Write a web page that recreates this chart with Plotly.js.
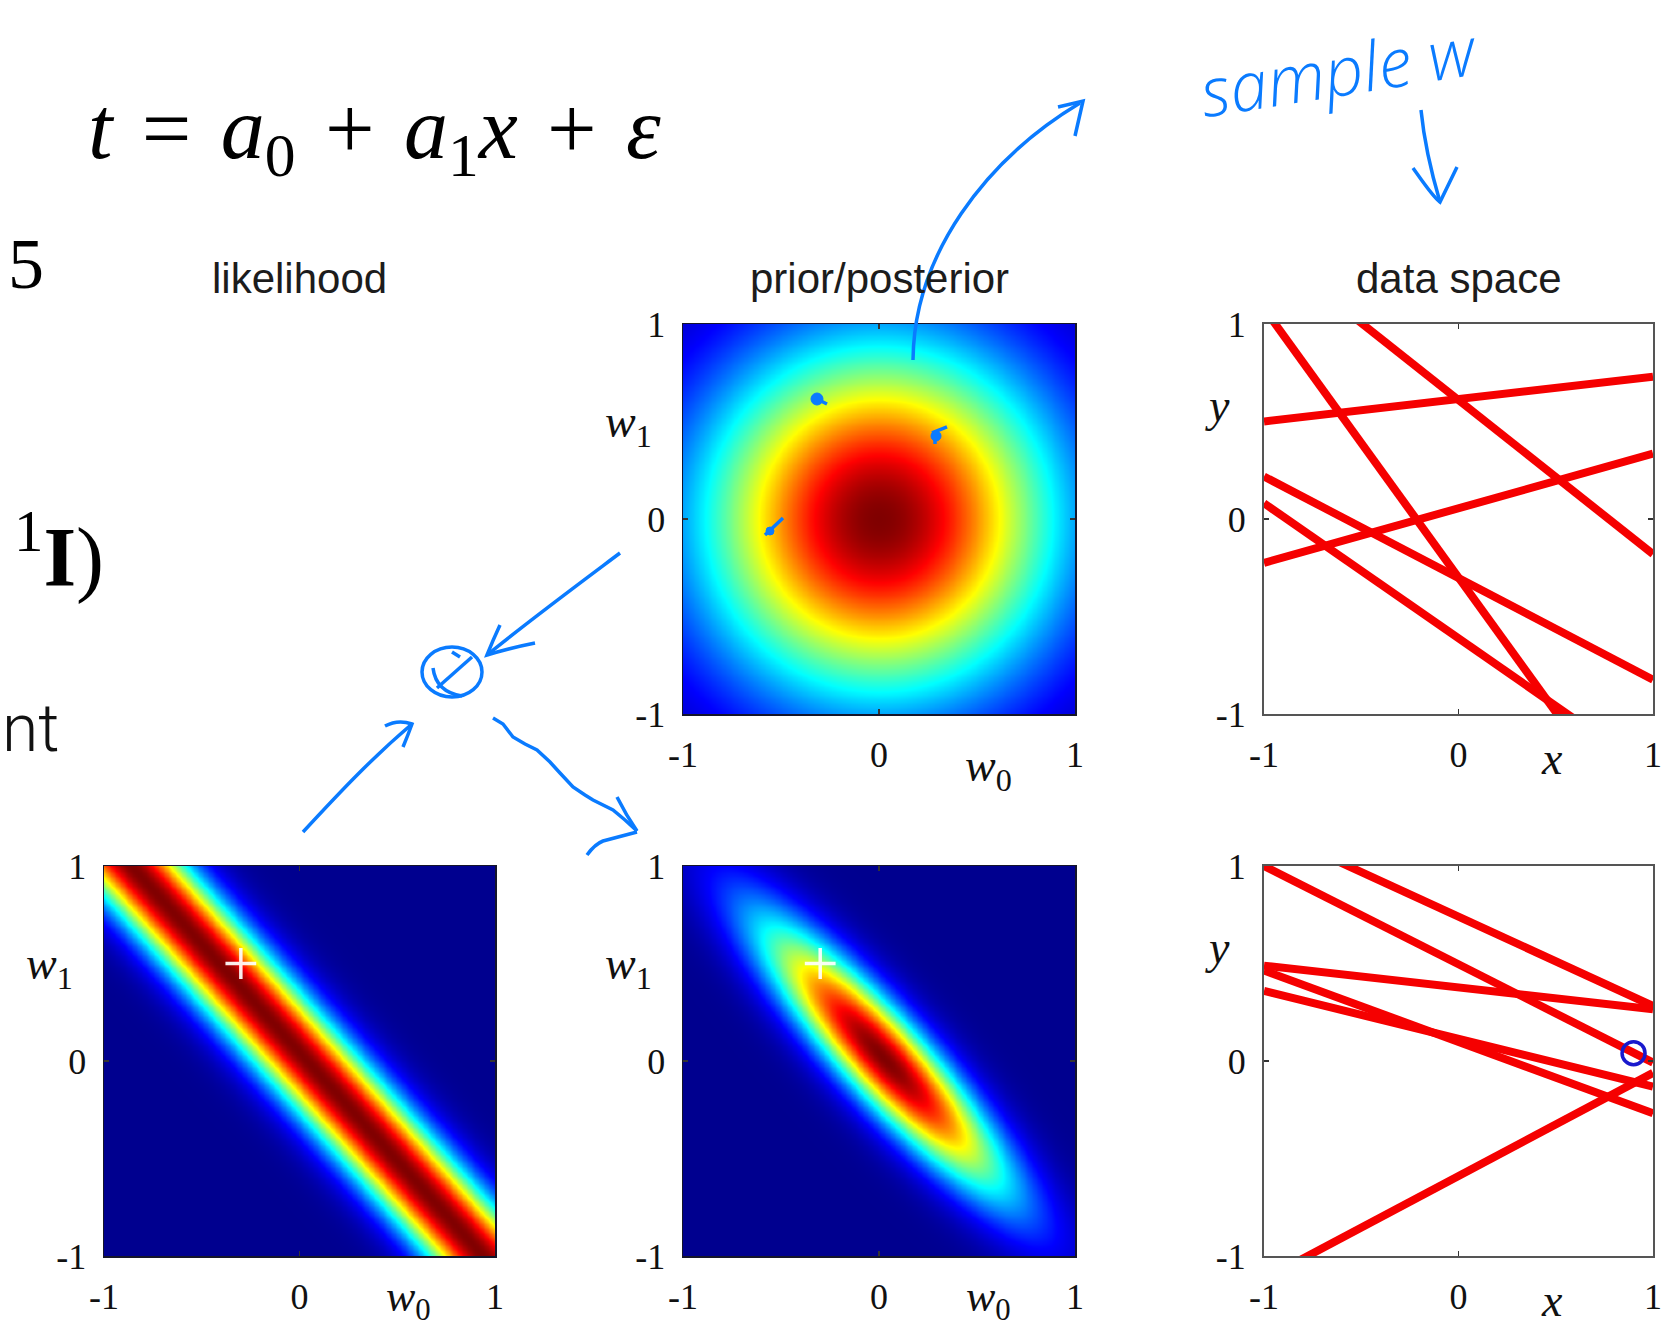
<!DOCTYPE html>
<html><head><meta charset="utf-8">
<script src="https://cdn.plot.ly/plotly-3.0.1.min.js"></script>
<style>html,body{margin:0;padding:0;background:#fff;overflow:hidden}#chart{width:1665px;height:1330px}</style>
</head><body><div id="chart"></div>
<script>
// ---------------- values ----------------
const tickValues = [-1, 0, 1];
const tickLabels = ['-1', '0', '1'];
const columnTitles = ['likelihood', 'prior/posterior', 'data space'];
const priorMean = [0, 0];
const priorPrecision = 2.5;          // alpha of the isotropic Gaussian prior
const noisePrecision = 25;           // beta of the observation noise
const observedX = [0.9];             // the one observed point (blue circle)
const observedT = [0.04];
const trueW0 = [-0.3];               // white cross
const trueW1 = [0.5];
// sampled weight vectors drawn as lines y = w0 + w1 x
const priorSampleW0 = [-0.30, 0.61, 0.615, 0.055, -0.303, -0.612];
const priorSampleW1 = [-1.38, -0.79, 0.115, 0.28, -0.521, -0.693];
const postSampleW0  = [0.496, 0.74, 0.377, 0.098, 0.114, -0.59];
const postSampleW1  = [-0.504, -0.458, -0.112, -0.366, -0.245, 0.529];
const lineEndsX = [-1, 1];

// ---------------- page geometry ----------------
const W = 1665, H = 1330;
const px = (x) => x / W, py = (y) => 1 - y / H;
const dx = (l, r) => [l / W, r / W];
const dy = (t, b) => [1 - b / H, 1 - t / H];

// ---------------- density grids ----------------
const N = 161;
const grid = [];
for (let i = 0; i < N; i++) grid.push(-1 + 2 * i / (N - 1));

const a = priorPrecision, b = noisePrecision;
let A00 = a, A01 = 0, A11 = a, r0 = a * priorMean[0], r1 = a * priorMean[1];
for (let k = 0; k < observedX.length; k++) {
  const x = observedX[k], t = observedT[k];
  A00 += b; A01 += b * x; A11 += b * x * x;
  r0 += b * t; r1 += b * t * x;
}
const det = A00 * A11 - A01 * A01;
const m0 = (A11 * r0 - A01 * r1) / det, m1 = (-A01 * r0 + A00 * r1) / det;

const zPrior = [], zLik = [], zPost = [];
for (const w1 of grid) {
  const rp = [], rl = [], rq = [];
  for (const w0 of grid) {
    const d0 = w0 - priorMean[0], d1 = w1 - priorMean[1];
    rp.push(Math.exp(-0.5 * a * (d0 * d0 + d1 * d1)));
    let e = 0;
    for (let k = 0; k < observedX.length; k++) { const r = observedT[k] - w0 - w1 * observedX[k]; e += r * r; }
    rl.push(Math.exp(-0.5 * b * e));
    const q0 = w0 - m0, q1 = w1 - m1;
    rq.push(Math.exp(-0.5 * (A00 * q0 * q0 + 2 * A01 * q0 * q1 + A11 * q1 * q1)));
  }
  zPrior.push(rp); zLik.push(rl); zPost.push(rq);
}

const jet = [[0, 'rgb(0,0,143)'], [0.125, 'rgb(0,0,255)'], [0.375, 'rgb(0,255,255)'],
             [0.625, 'rgb(255,255,0)'], [0.875, 'rgb(255,0,0)'], [1, 'rgb(128,0,0)']];

function heat(z, xa, ya) {
  return {type: 'heatmap', x: grid, y: grid, z: z, xaxis: xa, yaxis: ya, colorscale: jet,
          zmin: 0, zmax: 1, showscale: false, zsmooth: 'best', hoverinfo: 'skip'};
}
function lines(w0s, w1s, xa, ya) {
  const xs = [], ys = [];
  for (let i = 0; i < w0s.length; i++) {
    for (const x of lineEndsX) { xs.push(x); ys.push(w0s[i] + w1s[i] * x); }
    xs.push(null); ys.push(null);
  }
  return {type: 'scatter', mode: 'lines', x: xs, y: ys, xaxis: xa, yaxis: ya,
          line: {color: 'rgb(245,0,0)', width: 8}, hoverinfo: 'skip', connectgaps: false};
}
function cross(xa, ya) {
  return {type: 'scatter', mode: 'markers', x: trueW0, y: trueW1, xaxis: xa, yaxis: ya,
          marker: {symbol: 'cross-thin-open', size: 22, color: 'rgba(255,255,255,0.92)',
                   line: {width: 3.5, color: 'rgba(255,255,255,0.92)'}}, hoverinfo: 'skip'};
}

const traces = [
  heat(zLik, 'x', 'y'),
  heat(zPrior, 'x2', 'y2'),
  lines(priorSampleW0, priorSampleW1, 'x3', 'y3'),
  heat(zPost, 'x4', 'y4'),
  lines(postSampleW0, postSampleW1, 'x5', 'y5'),
  cross('x', 'y'), cross('x4', 'y4'),
  {type: 'scatter', mode: 'markers', x: observedX, y: observedT, xaxis: 'x5', yaxis: 'y5',
   marker: {symbol: 'circle-open', size: 23, color: 'rgb(25,25,205)', line: {width: 3.5, color: 'rgb(25,25,205)'}},
   hoverinfo: 'skip'}
];

const serif = 'Liberation Serif, Times New Roman, serif';
function axis(dom, anchor, heatPanel, isX) {
  return {domain: dom, anchor: anchor, range: [-1, 1], tickvals: tickValues, ticktext: tickLabels,
    ticks: 'inside', ticklen: 5, tickwidth: 1.5, tickcolor: '#333',
    showline: true, mirror: 'ticks', linecolor: heatPanel ? '#15152a' : '#555', linewidth: heatPanel ? 1.5 : 2,
    showgrid: false, zeroline: false, fixedrange: true,
    tickfont: {family: serif, size: 36, color: '#111'},
    ticklabelstandoff: isX ? 8 : 9};
}

const panels = { // left, right, top, bottom in page pixels
  A: [104, 495, 866, 1256], B: [683, 1075, 324, 714], C: [1264, 1653, 324, 714],
  D: [683, 1075, 866, 1256], E: [1264, 1653, 866, 1256]};

const layout = {
  width: W, height: H, margin: {l: 0, r: 0, t: 0, b: 0},
  paper_bgcolor: '#fff', plot_bgcolor: 'rgba(0,0,0,0)', showlegend: false,
  font: {family: serif, color: '#111'},
  xaxis:  axis(dx(panels.A[0], panels.A[1]), 'y', true, true),
  yaxis:  axis(dy(panels.A[2], panels.A[3]), 'x', true, false),
  xaxis2: axis(dx(panels.B[0], panels.B[1]), 'y2', true, true),
  yaxis2: axis(dy(panels.B[2], panels.B[3]), 'x2', true, false),
  xaxis3: axis(dx(panels.C[0], panels.C[1]), 'y3', false, true),
  yaxis3: axis(dy(panels.C[2], panels.C[3]), 'x3', false, false),
  xaxis4: axis(dx(panels.D[0], panels.D[1]), 'y4', true, true),
  yaxis4: axis(dy(panels.D[2], panels.D[3]), 'x4', true, false),
  xaxis5: axis(dx(panels.E[0], panels.E[1]), 'y5', false, true),
  yaxis5: axis(dy(panels.E[2], panels.E[3]), 'x5', false, false),
  annotations: [], shapes: []
};

// column titles
const colCenters = [299.5, 879, 1458.5];
columnTitles.forEach((t, i) => layout.annotations.push({
  text: t, xref: 'paper', yref: 'paper', x: px(colCenters[i]), y: py(278),
  xanchor: 'center', yanchor: 'middle', showarrow: false,
  font: {family: 'Liberation Sans, Arial, sans-serif', size: 42, color: '#1c1c1c'}}));

// axis titles
function axTitle(ax, txt, x, y, size) {
  layout.annotations.push({text: txt, xref: ax[0] + ' domain', yref: ax[1] + ' domain', x: x, y: y,
    xanchor: 'center', yanchor: 'middle', showarrow: false, font: {family: serif, size: size || 46, color: '#111'}});
}
axTitle(['x2', 'y2'], '<i>w</i><sub>0</sub>', 0.78, -0.14);
axTitle(['x', 'y'], '<i>w</i><sub>0</sub>', 0.78, -0.112, 44);
axTitle(['x4', 'y4'], '<i>w</i><sub>0</sub>', 0.78, -0.112, 44);
[['x', 'y'], ['x2', 'y2'], ['x4', 'y4']].forEach(ax => axTitle(ax, '<i>w</i><sub>1</sub>', -0.14, 0.74));
[['x3', 'y3'], ['x5', 'y5']].forEach(ax => {
  axTitle(ax, '<i>x</i>', 0.74, -0.115);
  axTitle(ax, '<i>y</i>', -0.12, 0.79);
});

// slide text around the figure
const S3 = '\u2004';
layout.annotations.push(
  {text: '<i>t</i>' + S3 + '=' + S3 + '<i>a</i><sub>0</sub>' + S3 + '+' + S3 + '<i>a</i><sub>1</sub><i>x</i>' + S3 + '+' + S3 + '<i>\u03b5</i>',
   xref: 'paper', yref: 'paper', x: px(86), y: py(134), xanchor: 'left', yanchor: 'middle', showarrow: false,
   font: {family: serif, size: 88, color: '#000'}},
  {text: '5', xref: 'paper', yref: 'paper', x: px(46), y: py(264), xanchor: 'right', yanchor: 'middle',
   showarrow: false, font: {family: serif, size: 72, color: '#000'}},
  {text: '<sup>1</sup><b>I</b>)', xref: 'paper', yref: 'paper', x: px(106), y: py(552), xanchor: 'right',
   yanchor: 'middle', showarrow: false, font: {family: serif, size: 84, color: '#000'}},
  {text: 'nt', xref: 'paper', yref: 'paper', x: px(0), y: py(728), xanchor: 'left', yanchor: 'middle',
   showarrow: false, font: {family: 'Liberation Sans Narrow, Roboto, sans-serif', size: 66, weight: 300, color: '#111'}},
  {text: 'sample w', xref: 'paper', yref: 'paper', x: px(1338), y: py(70), xanchor: 'center', yanchor: 'middle',
   textangle: -9, showarrow: false,
   font: {family: 'Open Sans, Liberation Sans, sans-serif', size: 68, weight: 300, style: 'italic', color: '#0a7bff'}}
);

// hand-drawn blue strokes (page pixels -> paper)
function toPaper(path) {
  const tok = path.trim().split(/[\s,]+/); const out = []; let nums = [];
  for (const t of tok) {
    if (/^[A-Za-z]$/.test(t)) { out.push(t); }
    else { nums.push(parseFloat(t)); if (nums.length === 2) { out.push(px(nums[0]).toFixed(5) + ',' + py(nums[1]).toFixed(5)); nums = []; } }
  }
  return out.join(' ');
}
const blue = '#0a7bff';
const strokes = [
  'M 913 360 C 914 255 985 160 1080 103', 'M 1058 107 L 1083 101 L 1075 136',
  'M 1421 110 C 1424 140 1432 175 1440 202', 'M 1413 168 C 1425 185 1433 197 1440 202 L 1457 167',
  'M 620 553 C 580 583 530 620 487 655', 'M 500 625 Q 493 640 487 655 Q 510 648 535 643',
  'M 433 668 Q 436 692 462 696', 'M 437 688 L 472 657', 'M 452 652 L 460 657',
  'M 303 832 C 340 792 372 758 412 724', 'M 385 726 Q 398 719 412 724 Q 408 735 403 747',
  'M 493 718 L 503 724 L 513 737 L 525 744 L 537 750 L 550 762 L 560 773 L 573 787 L 585 795 L 593 800 L 613 810 L 625 820 L 637 831',
  'M 617 797 Q 626 815 637 831', 'M 587 855 Q 595 844 603 841 L 637 832',
  'M 765 535 L 783 518', 'M 932 433 L 947 427', 'M 935 432 L 935 444', 'M 817 399 L 827 404'
];
strokes.forEach(s => layout.shapes.push({type: 'path', xref: 'paper', yref: 'paper', path: toPaper(s),
  line: {color: blue, width: 3.5}, layer: 'above'}));
layout.shapes.push({type: 'circle', xref: 'paper', yref: 'paper', x0: px(422), x1: px(482), y0: py(697), y1: py(647),
  line: {color: blue, width: 3.5}, layer: 'above'});
[[817, 399, 6], [936, 436, 5], [770, 531, 4]].forEach(c => layout.shapes.push({type: 'circle', xref: 'paper', yref: 'paper',
  x0: px(c[0] - c[2]), x1: px(c[0] + c[2]), y0: py(c[1] + c[2]), y1: py(c[1] - c[2]),
  fillcolor: blue, line: {color: blue, width: 1}, layer: 'above'}));

Plotly.newPlot('chart', traces, layout, {staticPlot: true, displayModeBar: false});
</script></body></html>
